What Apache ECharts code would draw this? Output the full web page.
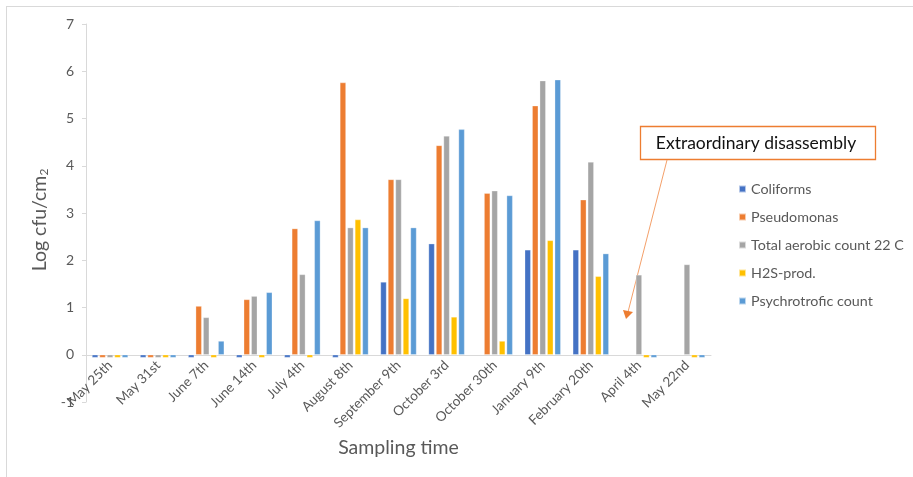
<!DOCTYPE html>
<html>
<head>
<meta charset="utf-8">
<script src="https://cdn.jsdelivr.net/npm/echarts@6/dist/echarts.min.js"></script>
<style>html,body{margin:0;padding:0;background:#fff}#c{width:913px;height:477px}</style>
</head>
<body>
<div id="c"></div>
<script>
const categories = ['May 25th','May 31st','June 7th','June 14th','July 4th','August 8th','September 9th','October 3rd','October 30th','January 9th','February 20th','April 4th','May 22nd'];
const coliforms   = [-0.06,-0.06,-0.06,-0.06,-0.06,-0.06,1.54,2.35,null,2.22,2.22,null,null];
const pseudomonas = [-0.06,-0.06,1.03,1.17,2.67,5.76,3.71,4.43,3.42,5.27,3.28,null,null];
const totalAerobic= [-0.06,-0.06,0.79,1.24,1.70,2.69,3.71,4.63,3.47,5.80,4.08,1.69,1.91];
const h2sProd     = [-0.06,-0.06,-0.06,-0.06,-0.06,2.86,1.19,0.80,0.29,2.42,1.66,-0.06,-0.06];
const psychro     = [-0.06,-0.06,0.29,1.32,2.84,2.69,2.69,4.77,3.37,5.82,2.14,-0.06,-0.06];
const seriesNames = ['Coliforms','Pseudomonas','Total aerobic count 22 C','H2S-prod.','Psychrotrofic count'];
const yTicks = {min:-1, max:7, interval:1};

const colors = ['#4472C4','#ED7D31','#A5A5A5','#FFC000','#5B9BD5'];
const FONT = 'Lato';
const dataSets = [coliforms, pseudomonas, totalAerobic, h2sProd, psychro];

const chart = echarts.init(document.getElementById('c'), null, {renderer:'canvas'});
chart.setOption({
  animation:false,
  backgroundColor:'#fff',
  color: colors,
  textStyle:{fontFamily:FONT},
  grid:{left:86, right:202, top:24, bottom:75, containLabel:false, outerBoundsMode:'none'},
  legend:{
    orient:'vertical', left:733, top:177,
    itemWidth:7, itemHeight:7, itemGap:14,
    icon:'rect',
    textStyle:{color:'#595959', fontSize:14.3, fontFamily:FONT},
    data: seriesNames
  },
  xAxis:{
    type:'category', data:categories,
    axisLine:{onZero:true, lineStyle:{color:'#D9D9D9', width:1}},
    axisTick:{show:false},
    axisLabel:{rotate:45, color:'#595959', fontSize:13.5, margin:-39, interval:0, fontFamily:FONT},
    name:'Sampling time', nameLocation:'middle', nameGap:36, nameMoveOverlap:false,
    nameTextStyle:{color:'#595959', fontSize:19.5, fontFamily:FONT}
  },
  yAxis:{
    type:'value', min:yTicks.min, max:yTicks.max, interval:yTicks.interval,
    splitLine:{show:false},
    axisLine:{show:true, lineStyle:{color:'#D9D9D9'}},
    axisTick:{show:true, length:4, lineStyle:{color:'#D9D9D9'}},
    axisLabel:{color:'#595959', fontSize:14, margin:12, fontFamily:FONT},
    name:'Log cfu/cm{sub|2}', nameLocation:'middle', nameGap:34, nameRotate:90,
    nameTextStyle:{color:'#595959', fontSize:19.5, fontFamily:FONT, padding:[0,14,0,0],
      rich:{sub:{fontSize:12, verticalAlign:'bottom', color:'#595959', padding:[9,0,0,0], fontFamily:FONT}}}
  },
  series: seriesNames.map((n,i)=>({
    name:n, type:'bar', data:dataSets[i], barWidth:6, barGap:'25%',
    itemStyle:{color:colors[i], borderColor:'rgba(255,255,255,0.6)', borderWidth:0.5}
  })),
  graphic:[
    {type:'line', shape:{x1:6,y1:6.5,x2:913,y2:6.5}, style:{stroke:'#D9D9D9', lineWidth:1}},
    {type:'line', shape:{x1:6.5,y1:6,x2:6.5,y2:477}, style:{stroke:'#D9D9D9', lineWidth:1}},
    {type:'rect', shape:{x:640.5,y:126.5,width:235,height:33}, style:{fill:'#fff', stroke:'#ED7D31', lineWidth:1.3}},
    {type:'text', x:756, y:143, style:{text:'Extraordinary disassembly', fill:'#111', fontSize:17.5, fontFamily:FONT, align:'center', verticalAlign:'middle'}},
    {type:'line', shape:{x1:667,y1:160,x2:628,y2:312}, style:{stroke:'#F4A06A', lineWidth:1}},
    {type:'polygon', shape:{points:[[626,319],[623,310],[633,312]]}, style:{fill:'#ED7D31'}}
  ]
});
</script>
</body>
</html>
